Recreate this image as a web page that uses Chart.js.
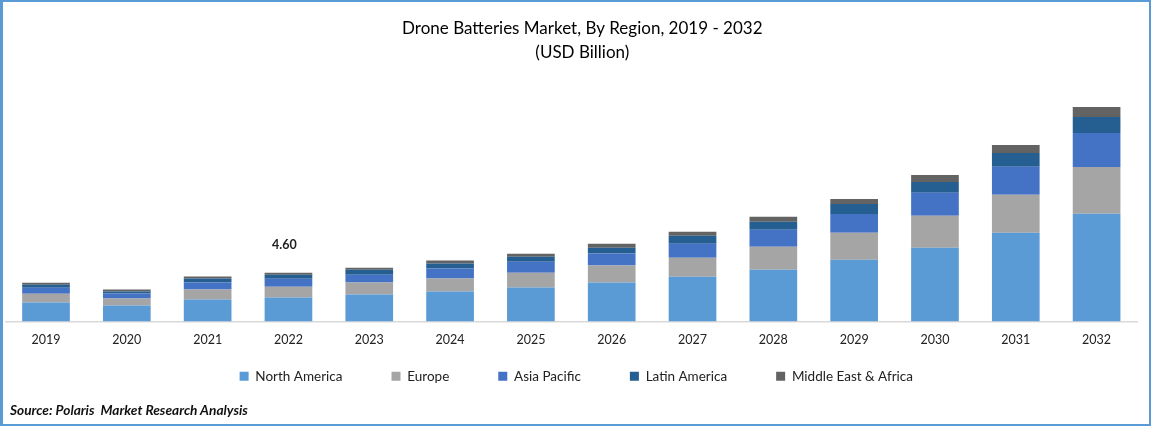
<!DOCTYPE html>
<html>
<head>
<meta charset="utf-8">
<script src="https://cdn.jsdelivr.net/npm/chart.js@4"></script>
<style>
  html, body { margin: 0; padding: 0; background: #fff; }
  #wrap { position: relative; width: 1151px; height: 426px; overflow: hidden; }
  #frame { position: absolute; inset: 0; border: 2px solid #5B9BD5; border-left-width: 3px; box-sizing: border-box; pointer-events: none; }
  #source { position: absolute; left: 10px; top: 401px; font: italic 700 13.7px Lato, sans-serif; color: #111; }
</style>
</head>
<body>
<div id="wrap">
  <canvas id="chart" width="1151" height="426"></canvas>
  <div id="frame"></div>
  <div id="source">Source: Polaris&nbsp; Market Research Analysis</div>
</div>
<script>
const years = ['2019', '2020', '2021', '2022', '2023', '2024', '2025', '2026', '2027', '2028', '2029', '2030', '2031', '2032'];
const northAmerica = [1.78, 1.50, 2.07, 2.25, 2.53, 2.82, 3.19, 3.66, 4.22, 4.88, 5.82, 6.95, 8.36, 10.14];
const europe = [0.84, 0.66, 0.94, 1.03, 1.13, 1.22, 1.41, 1.60, 1.78, 2.16, 2.53, 3.00, 3.57, 4.41];
const asiaPacific = [0.56, 0.47, 0.66, 0.75, 0.75, 0.94, 1.03, 1.13, 1.31, 1.60, 1.78, 2.16, 2.63, 3.19];
const latinAmerica = [0.28, 0.19, 0.38, 0.38, 0.47, 0.47, 0.47, 0.56, 0.75, 0.75, 0.94, 1.03, 1.31, 1.50];
const middleEast = [0.19, 0.19, 0.19, 0.19, 0.19, 0.28, 0.28, 0.38, 0.38, 0.47, 0.47, 0.66, 0.75, 0.94];
const calloutYear = '2022';
const calloutText = '4.60';

const font = 'Lato, sans-serif';

// Legend and title sit off-centre in the original, and the legend's big
// item padding would otherwise push it far below the axis
const nudgePlugin = {
    id: 'nudge',
    afterLayout(chart) {
        chart.titleBlock.left += 22;
        chart.legend.top -= 30;
        chart.legend.left += 10;
    }
};

// Total label floating over the 2022 bar
const calloutPlugin = {
    id: 'callout',
    afterDatasetsDraw(chart) {
        const i = years.indexOf(calloutYear);
        const top = chart.getDatasetMeta(4).data[i];
        const c = chart.ctx;
        c.save();
        c.font = '700 12.5px ' + font;
        c.fillStyle = '#222';
        c.textAlign = 'center';
        c.textBaseline = 'middle';
        c.fillText(calloutText, top.x - 4, top.y - 28);
        c.restore();
    }
};

const dataset = (label, data, color) => ({
    label, data,
    backgroundColor: color,
    borderWidth: 0,
    categoryPercentage: 1,
    barPercentage: 0.59
});

new Chart(document.getElementById('chart'), {
    type: 'bar',
    data: {
        labels: years,
        datasets: [
            dataset('North America', northAmerica, '#5B9BD5'),
            dataset('Europe', europe, '#A5A5A5'),
            dataset('Asia Pacific', asiaPacific, '#4472C4'),
            dataset('Latin America', latinAmerica, '#255E91'),
            dataset('Middle East & Africa', middleEast, '#636363')
        ]
    },
    options: {
        responsive: false,
        animation: false,
        layout: { padding: { left: 5.6, right: 14, top: 17, bottom: 3 } },
        plugins: {
            tooltip: { enabled: false },
            title: {
                display: true,
                text: ['Drone Batteries Market, By Region, 2019 - 2032', '(USD Billion)'],
                color: '#000',
                font: { family: font, size: 17, weight: '400', lineHeight: 1.4 },
                padding: { top: 0, bottom: 10 }
            },
            legend: {
                position: 'bottom',
                labels: {
                    boxWidth: 9,
                    boxHeight: 9,
                    padding: 49,
                    color: '#222',
                    font: { family: font, size: 13.5 }
                }
            }
        },
        scales: {
            x: {
                stacked: true,
                grid: { display: false },
                border: { color: '#D9D9D9', width: 1.5 },
                ticks: { color: '#222', font: { family: font, size: 12.5 }, padding: 3, maxRotation: 0 }
            },
            y: {
                stacked: true,
                display: false,
                min: 0,
                max: 23.24
            }
        }
    },
    plugins: [nudgePlugin, calloutPlugin]
});
</script>
</body>
</html>
